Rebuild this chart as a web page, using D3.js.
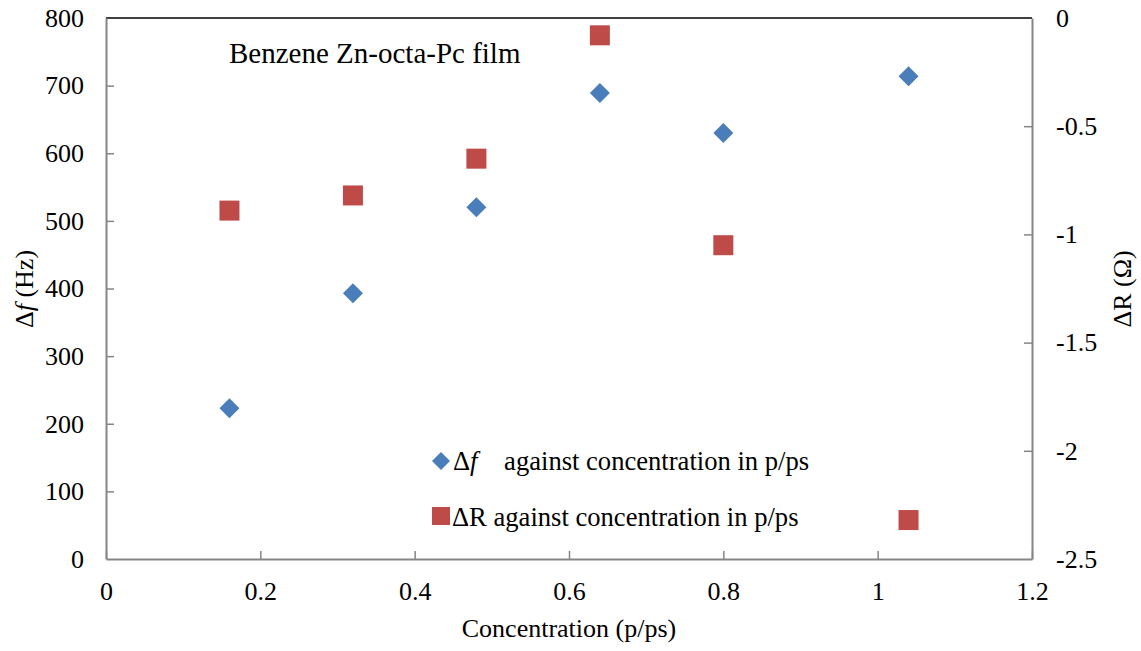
<!DOCTYPE html>
<html>
<head>
<meta charset="utf-8">
<script src="https://cdn.jsdelivr.net/npm/d3@7/dist/d3.min.js"></script>
<style>
  html, body { margin: 0; padding: 0; background: #fff; }
  svg { display: block; }
</style>
</head>
<body>
<svg id="chart" width="1141" height="651"></svg>
<script>
// Concentration (p/ps) of each exposure
const concentration = [0.16, 0.32, 0.48, 0.64, 0.80, 1.04];
// Frequency shift Δf (Hz), left axis
const deltaF = [223, 393, 520, 689, 630, 714];
// Resistance change ΔR (Ω), right axis
const deltaR = [-0.89, -0.82, -0.65, -0.08, -1.05, -2.32];

const xTicks = [0, 0.2, 0.4, 0.6, 0.8, 1, 1.2];
const yLeftTicks = [0, 100, 200, 300, 400, 500, 600, 700, 800];
const yRightTicks = [0, -0.5, -1, -1.5, -2, -2.5];

const FONT = "Liberation Serif";
const FS = 26;
const blue = "#4a7ebb";
const red = "#be4b48";
const axisGrey = "#868686";

const svg = d3.select("#chart");
const plot = { left: 106, right: 1032, top: 18, bottom: 559 };

const x = d3.scaleLinear().domain([0, 1.2]).range([plot.left, plot.right]);
const yL = d3.scaleLinear().domain([0, 800]).range([plot.bottom, plot.top]);
const yR = d3.scaleLinear().domain([-2.5, 0]).range([plot.bottom, plot.top]);

function label(sel, size = FS) {
  return sel.attr("font-family", FONT).attr("font-size", size).attr("fill", "#000");
}

// Top border of the plot area
svg.append("line")
  .attr("x1", plot.left).attr("x2", plot.right)
  .attr("y1", plot.top).attr("y2", plot.top)
  .attr("stroke", "#000").attr("stroke-width", 1.5);

function styleAxis(g) {
  g.attr("font-family", FONT).attr("font-size", FS);
  g.selectAll(".domain").attr("stroke", axisGrey).attr("stroke-width", 2);
  g.selectAll(".tick line").attr("stroke", axisGrey).attr("stroke-width", 1.5);
  g.selectAll(".tick text").attr("fill", "#000");
}

// Bottom axis, ticks pointing into the plot
const gx = svg.append("g")
  .attr("transform", `translate(0,${plot.bottom})`)
  .call(d3.axisBottom(x).tickValues(xTicks).tickSizeInner(-8).tickSizeOuter(0)
    .tickPadding(23).tickFormat(d3.format("")));
styleAxis(gx);

// Left axis (Δf)
const gl = svg.append("g")
  .attr("transform", `translate(${plot.left},0)`)
  .call(d3.axisLeft(yL).tickValues(yLeftTicks).tickSizeInner(-8).tickSizeOuter(0)
    .tickPadding(22));
styleAxis(gl);
gl.selectAll(".tick line").filter(d => d === 0 || d === 800).remove();

// Right axis (ΔR)
const gr = svg.append("g")
  .attr("transform", `translate(${plot.right},0)`)
  .call(d3.axisRight(yR).tickValues(yRightTicks).tickSizeInner(-8).tickSizeOuter(0)
    .tickPadding(24).tickFormat(d3.format("")));
styleAxis(gr);
gr.selectAll(".tick line").filter(d => d === 0 || d === -2.5).remove();
gr.selectAll(".tick text").text(d => String(d));

// Δf series: blue diamonds
const diamond = "M0,-10L10,0L0,10L-10,0Z";
svg.append("g").selectAll("path")
  .data(concentration.map((c, i) => [c, deltaF[i]]))
  .join("path")
  .attr("d", diamond)
  .attr("transform", d => `translate(${x(d[0])},${yL(d[1])})`)
  .attr("fill", blue);

// ΔR series: red squares
svg.append("g").selectAll("rect")
  .data(concentration.map((c, i) => [c, deltaR[i]]))
  .join("rect")
  .attr("x", d => x(d[0]) - 10).attr("y", d => yR(d[1]) - 10)
  .attr("width", 20).attr("height", 20)
  .attr("fill", red);

// Chart annotation
label(svg.append("text").attr("x", 229).attr("y", 63), 29)
  .text("Benzene Zn-octa-Pc film");

// Axis titles
label(svg.append("text").attr("x", 569).attr("y", 637).attr("text-anchor", "middle"))
  .text("Concentration (p/ps)");

const lt = label(svg.append("text")
  .attr("transform", "translate(33,289) rotate(-90)")
  .attr("text-anchor", "middle"));
lt.append("tspan").text("\u0394");
lt.append("tspan").attr("font-style", "italic").text("f");
lt.append("tspan").text(" (Hz)");

label(svg.append("text")
  .attr("transform", "translate(1131,289) rotate(-90)")
  .attr("text-anchor", "middle"))
  .text("\u0394R (\u03A9)");

// Legend
svg.append("path").attr("d", "M0,-9L9,0L0,9L-9,0Z")
  .attr("transform", "translate(441,461)").attr("fill", blue);
const l1 = label(svg.append("text").attr("x", 453).attr("y", 470), 26.6);
l1.append("tspan").text("\u0394");
l1.append("tspan").attr("font-style", "italic").text("f");
l1.append("tspan").text("\u00A0\u00A0\u00A0\u00A0against concentration in p/ps");

svg.append("rect").attr("x", 432).attr("y", 507).attr("width", 18).attr("height", 18)
  .attr("fill", red);
label(svg.append("text").attr("x", 452).attr("y", 526), 26.6)
  .text("\u0394R against concentration in p/ps");
</script>
</body>
</html>
